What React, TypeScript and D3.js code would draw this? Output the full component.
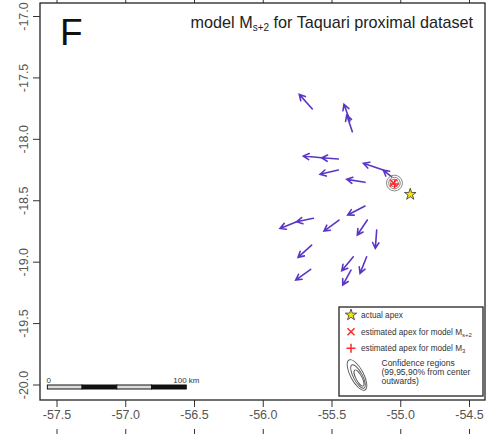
import React, { useEffect, useRef } from "react";
import * as d3 from "d3";

// axis ticks
const xTicks = [-57.5, -57.0, -56.5, -56.0, -55.5, -55.0, -54.5];
const yTicks = [-17.0, -17.5, -18.0, -18.5, -19.0, -19.5, -20.0];

// direction arrows: [lonTail, latTail, lonHead, latHead]
const arrows: number[][] = [
  [-55.643, -17.753, -55.738, -17.634],
  [-55.369, -17.851, -55.413, -17.715],
  [-55.352, -17.938, -55.393, -17.802],
  [-55.575, -18.15, -55.709, -18.136],
  [-55.454, -18.16, -55.575, -18.15],
  [-55.454, -18.25, -55.587, -18.285],
  [-55.26, -18.35, -55.393, -18.326],
  [-55.127, -18.25, -55.272, -18.195],
  [-55.066, -18.305, -55.127, -18.25],
  [-55.26, -18.543, -55.386, -18.616],
  [-55.636, -18.643, -55.757, -18.671],
  [-55.757, -18.671, -55.878, -18.725],
  [-55.449, -18.657, -55.558, -18.747],
  [-55.243, -18.657, -55.316, -18.779],
  [-55.175, -18.739, -55.185, -18.888],
  [-55.648, -18.861, -55.747, -18.961],
  [-55.345, -18.956, -55.429, -19.07],
  [-55.248, -18.956, -55.296, -19.091],
  [-55.362, -19.064, -55.422, -19.186],
  [-55.655, -19.059, -55.764, -19.146],
];

const actualApex = [-54.931, -18.448];
const apexMs2 = [-55.053, -18.356];
const apexM3 = [-55.045, -18.364];
// confidence ellipses radii in degrees [lon, lat]
const confRadii = [
  [0.028, 0.032],
  [0.042, 0.047],
  [0.058, 0.064],
];

// scale bar
const scaleStartLon = -57.57;
const scaleEndLon = -56.56;
const scaleLat = -20.0;
const scaleSegments = 4;

const W = 487;
const H = 434;
const purple = "#5b36c6";

export default function App() {
  const ref = useRef<SVGSVGElement>(null);

  useEffect(() => {
    const svg = d3.select(ref.current);
    svg.selectAll("*").remove();

    const x = d3.scaleLinear().domain([-57.5, -54.5]).range([57, 469.5]);
    const y = d3.scaleLinear().domain([-17, -20]).range([16.5, 385]);
    const left = 40,
      right = 485,
      top = 3,
      bottom = 400;

    svg.append("rect").attr("width", W).attr("height", H).attr("fill", "white");

    // stray ticks of neighbouring panels
    xTicks.forEach((t) => {
      svg.append("line").attr("x1", x(t)).attr("x2", x(t)).attr("y1", 0).attr("y2", 3).attr("stroke", "#333");
      svg.append("line").attr("x1", x(t)).attr("x2", x(t)).attr("y1", 429).attr("y2", 434).attr("stroke", "#333");
    });

    // frame
    svg
      .append("rect")
      .attr("x", left)
      .attr("y", top)
      .attr("width", right - left)
      .attr("height", bottom - top)
      .attr("fill", "none")
      .attr("stroke", "#222")
      .attr("stroke-width", 1.3);

    // x axis
    const gx = svg.append("g");
    xTicks.forEach((t) => {
      gx.append("line").attr("x1", x(t)).attr("x2", x(t)).attr("y1", bottom).attr("y2", bottom + 7).attr("stroke", "#333");
      gx.append("text")
        .attr("x", x(t))
        .attr("y", 419)
        .attr("text-anchor", "middle")
        .attr("font-family", "Liberation Sans, Arial, sans-serif")
        .attr("font-size", 12.5)
        .attr("fill", "#555")
        .text(t.toFixed(1));
    });

    // y axis
    const gy = svg.append("g");
    yTicks.forEach((t) => {
      gy.append("line").attr("x1", left - 7).attr("x2", left).attr("y1", y(t)).attr("y2", y(t)).attr("stroke", "#333");
      gy.append("text")
        .attr("transform", `translate(28,${y(t)}) rotate(-90)`)
        .attr("text-anchor", "middle")
        .attr("font-family", "Liberation Sans, Arial, sans-serif")
        .attr("font-size", 12.5)
        .attr("fill", "#555")
        .text(t.toFixed(1));
    });

    // panel letter and title
    svg
      .append("text")
      .attr("x", 60)
      .attr("y", 45)
      .attr("font-family", "Liberation Sans, Arial, sans-serif")
      .attr("font-size", 37)
      .attr("fill", "#111")
      .text("F");
    const title = svg
      .append("text")
      .attr("x", 473)
      .attr("y", 28)
      .attr("text-anchor", "end")
      .attr("font-family", "Liberation Sans, Arial, sans-serif")
      .attr("font-size", 16.2)
      .attr("fill", "#222");
    title.append("tspan").text("model M");
    title.append("tspan").attr("font-size", 10).attr("dy", 3).text("s+2");
    title.append("tspan").attr("dy", -3).text(" for Taquari proximal dataset");

    // arrows
    const ga = svg.append("g").attr("stroke", purple).attr("stroke-width", 1.6).attr("fill", "none").attr("stroke-linecap", "round");
    const headLen = 6.5;
    arrows.forEach(([lt, at, lh, ah]) => {
      const x1 = x(lt), y1 = y(at), x2 = x(lh), y2 = y(ah);
      const ang = Math.atan2(y2 - y1, x2 - x1);
      const path = d3.path();
      path.moveTo(x1, y1);
      path.lineTo(x2, y2);
      path.moveTo(x2 - headLen * Math.cos(ang - 0.5), y2 - headLen * Math.sin(ang - 0.5));
      path.lineTo(x2, y2);
      path.lineTo(x2 - headLen * Math.cos(ang + 0.5), y2 - headLen * Math.sin(ang + 0.5));
      ga.append("path").attr("d", path.toString());
    });

    // confidence ellipses
    const kx = Math.abs(x(1) - x(0));
    const ky = Math.abs(y(1) - y(0));
    confRadii.forEach(([rl, ra]) => {
      svg
        .append("ellipse")
        .attr("cx", x(apexMs2[0]) + 1)
        .attr("cy", y(apexMs2[1]))
        .attr("rx", rl * kx)
        .attr("ry", ra * ky)
        .attr("fill", "none")
        .attr("stroke", "#888")
        .attr("stroke-width", 1);
    });

    const star = d3.symbol().type(d3.symbolStar);

    const drawX = (cx: number, cy: number, s: number, w: number) => {
      svg
        .append("path")
        .attr("d", `M${cx - s},${cy - s}L${cx + s},${cy + s}M${cx - s},${cy + s}L${cx + s},${cy - s}`)
        .attr("stroke", "#ff2a2a")
        .attr("stroke-width", w);
    };
    const drawPlus = (cx: number, cy: number, s: number, w: number) => {
      svg
        .append("path")
        .attr("d", `M${cx - s},${cy}L${cx + s},${cy}M${cx},${cy - s}L${cx},${cy + s}`)
        .attr("stroke", "#ff2a2a")
        .attr("stroke-width", w);
    };

    drawX(x(apexMs2[0]), y(apexMs2[1]), 3.5, 1.5);
    drawPlus(x(apexM3[0]), y(apexM3[1]), 4.5, 1.5);

    svg
      .append("path")
      .attr("d", star.size(42)())
      .attr("transform", `translate(${x(actualApex[0])},${y(actualApex[1])})`)
      .attr("fill", "#f2e21a")
      .attr("stroke", "#333")
      .attr("stroke-width", 0.8);

    // scale bar
    const sx0 = x(scaleStartLon), sx1 = x(scaleEndLon), sy = y(scaleLat);
    const segW = (sx1 - sx0) / scaleSegments;
    d3.range(scaleSegments).forEach((i) => {
      svg
        .append("rect")
        .attr("x", sx0 + i * segW)
        .attr("y", sy)
        .attr("width", segW)
        .attr("height", 4)
        .attr("fill", i % 2 === 0 ? "#ddd" : "#111")
        .attr("stroke", "#111")
        .attr("stroke-width", 1);
    });
    svg.append("text").attr("x", sx0 - 1).attr("y", 383).attr("font-family", "Liberation Sans, Arial, sans-serif").attr("font-size", 8).attr("fill", "#333").text("0");
    svg.append("text").attr("x", sx1 - 13).attr("y", 383).attr("font-family", "Liberation Sans, Arial, sans-serif").attr("font-size", 8).attr("fill", "#333").text("100 km");

    // legend
    const lg = svg.append("g");
    lg.append("rect")
      .attr("x", 339)
      .attr("y", 307)
      .attr("width", 144)
      .attr("height", 89)
      .attr("fill", "white")
      .attr("stroke", "#333")
      .attr("stroke-width", 1.4);
    const font = "Liberation Sans, Arial, sans-serif";
    lg.append("path")
      .attr("d", star.size(40)())
      .attr("transform", "translate(351,315)")
      .attr("fill", "#f2e21a")
      .attr("stroke", "#333")
      .attr("stroke-width", 0.8);
    lg.append("text").attr("x", 361).attr("y", 317.5).attr("font-family", font).attr("font-size", 8.2).attr("fill", "#333").text("actual apex");
    drawX(351, 331.7, 3.5, 1.5);
    const t2 = lg.append("text").attr("x", 361).attr("y", 334.5).attr("font-family", font).attr("font-size", 8.2).attr("fill", "#333");
    t2.append("tspan").text("estimated apex for model M");
    t2.append("tspan").attr("font-size", 6).attr("dy", 2).text("s+2");
    drawPlus(351, 348.3, 4.5, 1.5);
    const t3 = lg.append("text").attr("x", 361).attr("y", 351).attr("font-family", font).attr("font-size", 8.2).attr("fill", "#333");
    t3.append("tspan").text("estimated apex for model M");
    t3.append("tspan").attr("font-size", 6).attr("dy", 2).text("3");
    [
      [17, 6.5],
      [13, 4.5],
      [9, 3],
    ].forEach(([a, b], i) => {
      lg.append("ellipse")
        .attr("cx", 357 + i)
        .attr("cy", 375 + i * 1.5)
        .attr("rx", b)
        .attr("ry", a)
        .attr("transform", `rotate(-28,${357 + i},${375 + i * 1.5})`)
        .attr("fill", "none")
        .attr("stroke", "#555")
        .attr("stroke-width", 0.9);
    });
    ["Confidence regions", "(99,95,90% from center", "outwards)"].forEach((s, i) => {
      lg.append("text")
        .attr("x", 381.5)
        .attr("y", 366 + i * 9.2)
        .attr("font-family", font)
        .attr("font-size", 8.5)
        .attr("fill", "#333")
        .text(s);
    });
  }, []);

  return (
    <svg
      ref={ref}
      width={W}
      height={H}
      style={{ position: "absolute", left: 0, top: 0 }}
    />
  );
}
